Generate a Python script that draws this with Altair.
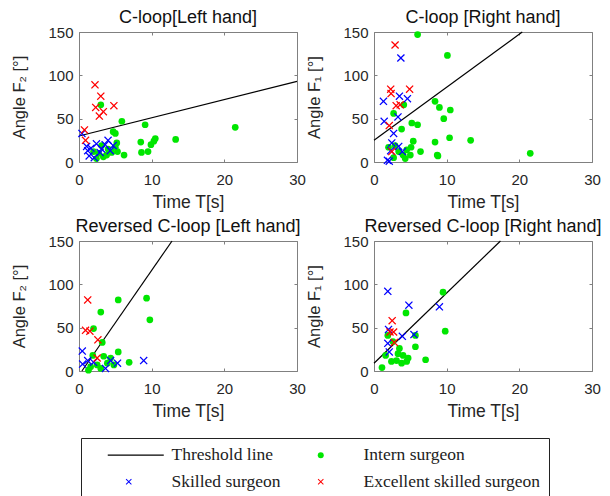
import altair as alt
import pandas as pd

groups = ["Threshold line", "Intern surgeon", "Skilled surgeon", "Excellent skilled surgeon"]
colors = ["#000000", "#00e600", "#0000ff", "#ff0000"]
X_PATH = "M-1,-0.78L-0.78,-1L0,-0.22L0.78,-1L1,-0.78L0.22,0L1,0.78L0.78,1L0,0.22L-0.78,1L-1,0.78L-0.22,0Z"
LINE_PATH = "M-7,-0.17L11.67,-0.17L11.67,0.17L-7,0.17Z"
shapes = [LINE_PATH, "circle", X_PATH, X_PATH]

titles = ["C-loop[Left hand]", "C-loop [Right hand]",
          "Reversed C-loop [Left hand]", "Reversed C-loop [Right hand]"]
y_titles = ["Angle F₂ [°]", "Angle F₁ [°]", "Angle F₂ [°]", "Angle F₁ [°]"]

# Threshold line end points (time, angle)
thr_t = [[0, 30], [0, 20.4], [0.4, 12.8], [0, 17.4]]
thr_a = [[30, 93], [25, 150], [0, 150], [9, 150]]

# Panel 1: C-loop left hand
p1_int_t = [3.0, 5.9, 4.7, 5.0, 9.1, 21.5, 13.3, 10.5, 10.3, 8.5, 9.9, 9.5, 8.6, 6.2, 5.2, 5.3, 4.5, 3.8, 2.7, 2.0, 3.35, 2.4, 4.0, 5.0, 3.1]
p1_int_a = [66, 47, 35, 33, 43, 40, 26, 27, 24, 23, 20, 12, 11, 8, 22, 12, 11, 8, 10, 12, 6, 4, 15, 17, 19]
p1_sk_t = [0.4, 1.05, 1.65, 2.4, 1.2, 1.4, 2.1, 2.9, 3.6, 4.0, 4.7, 3.1, 4.3]
p1_sk_a = [33, 18, 16, 21, 13, 7, 5, 11, 20, 25, 19, 15, 13]
p1_ex_t = [2.2, 3.0, 2.3, 3.35, 2.8, 4.8, 0.75, 0.9]
p1_ex_a = [89, 76, 63, 58, 53, 65, 37, 25]

# Panel 2: C-loop right hand
p2_int_t = [6.0, 10.1, 4.1, 8.4, 9.0, 10.5, 9.6, 2.7, 3.8, 5.2, 6.0, 10.4, 13.3, 8.4, 21.5, 6.4, 8.7, 8.8, 5.4, 5.1, 4.5, 4.0, 2.9, 2.0, 2.7, 4.3, 5.0, 3.4]
p2_int_a = [147, 123, 66, 70, 63, 60, 50, 56, 38, 45, 43, 28, 25, 23, 10, 12, 8, 7, 24, 17, 14, 8, 19, 17, 5, 4, 8, 12]
p2_sk_t = [3.7, 1.3, 3.5, 4.6, 1.4, 3.3, 2.7, 2.45, 3.4, 3.9, 1.85, 2.1, 2.3]
p2_sk_a = [120, 70, 76, 73, 47, 52, 33, 22, 18, 12, 2, 1, 13]
p2_ex_t = [2.9, 2.3, 2.35, 4.9, 3.05, 3.6, 2.1, 2.45]
p2_ex_a = [135, 84, 79, 84, 65, 66, 42, 12]

# Panel 3: Reversed C-loop left hand
p3_int_t = [3.0, 5.4, 9.3, 9.75, 2.0, 3.2, 5.4, 6.9, 3.4, 4.35, 2.5, 1.6, 1.3, 3.0, 3.9, 4.8, 1.9]
p3_int_a = [68, 82, 84, 59, 49, 33, 22, 10, 17, 15, 7, 5, 1, 3, 9, 7, 18]
p3_sk_t = [0.45, 0.5, 1.2, 4.35, 5.3, 8.9, 3.65, 2.0]
p3_sk_a = [23, 8, 12, 12, 9, 12, 3, 10]
p3_ex_t = [1.2, 0.9, 1.5, 2.6, 2.5]
p3_ex_a = [82, 47, 46, 36, 15]

# Panel 4: Reversed C-loop right hand
p4_int_t = [9.5, 4.4, 9.8, 5.7, 5.7, 1.1, 7.1, 1.9, 1.6, 2.6, 3.5, 4.0, 4.7, 3.1, 3.8, 2.4, 4.5, 3.3]
p4_int_a = [91, 67, 46, 28, 41, 4, 13, 41, 18, 34, 26, 18, 15, 12, 9, 11, 11, 20]
p4_sk_t = [1.9, 4.8, 9.0, 2.0, 3.9, 5.5, 1.9, 2.1]
p4_sk_a = [92, 76, 74, 48, 40, 42, 32, 22]
p4_ex_t = [2.5, 2.7, 2.2, 2.8]
p4_ex_a = [58, 45, 45, 33]

panel_data = [
    (p1_int_t, p1_int_a, p1_sk_t, p1_sk_a, p1_ex_t, p1_ex_a),
    (p2_int_t, p2_int_a, p2_sk_t, p2_sk_a, p2_ex_t, p2_ex_a),
    (p3_int_t, p3_int_a, p3_sk_t, p3_sk_a, p3_ex_t, p3_ex_a),
    (p4_int_t, p4_int_a, p4_sk_t, p4_sk_a, p4_ex_t, p4_ex_a),
]

FONT = "Liberation Sans"
TXT = "#262626"
color_scale = alt.Scale(domain=groups, range=colors)
shape_scale = alt.Scale(domain=groups, range=shapes)
xs = alt.Scale(domain=[0, 30], nice=False)
ys = alt.Scale(domain=[0, 150], nice=False)

legend = alt.Legend(
    title=None, orient="none", legendX=2, legendY=406, columns=2, direction="horizontal",
    symbolSize=36, symbolOffset=31,
    labelFont="Liberation Serif", labelFontSize=17.5, labelColor="#222222",
    labelOffset=34, labelLimit=300, padding=8, strokeColor="#222222", fillColor="white",
    columnPadding=-15, rowPadding=8,
)


def panel(i):
    it, ia, st, sa, et, ea = panel_data[i]
    circ = pd.DataFrame({"time": it, "angle": ia, "group": "Intern surgeon"})
    crosses = pd.DataFrame(
        [{"time": t, "angle": a, "group": "Skilled surgeon"} for t, a in zip(st, sa)]
        + [{"time": t, "angle": a, "group": "Excellent skilled surgeon"} for t, a in zip(et, ea)])
    ln = pd.DataFrame({"time": thr_t[i], "angle": thr_a[i]})

    line = alt.Chart(ln).mark_line(color="black", strokeWidth=1.2).encode(
        x=alt.X("time:Q", scale=xs, axis=alt.Axis(
            orient="bottom", title="Time T[s]", values=[0, 10, 20, 30], labelFlush=False,
            tickSize=3, offset=-3, domain=False, labelPadding=10, titlePadding=6)),
        y=alt.Y("angle:Q", scale=ys, axis=alt.Axis(
            orient="left", title=y_titles[i], values=[0, 50, 100, 150],
            tickSize=3, offset=-3, domain=False, labelPadding=6, titlePadding=20,
            titleFontSize=16.5)),
    )
    dots = alt.Chart(circ).mark_point(filled=True, size=45, opacity=1).encode(
        x=alt.X("time:Q", scale=xs, axis=alt.Axis(
            orient="top", title=None, labels=False, values=[0, 10, 20, 30],
            tickSize=3, offset=-3, domain=False)),
        y=alt.Y("angle:Q", scale=ys, axis=alt.Axis(
            orient="right", title=None, labels=False, values=[0, 50, 100, 150],
            tickSize=3, offset=-3, domain=False)),
        fill=alt.Fill("group:N", scale=color_scale, legend=legend),
        shape=alt.Shape("group:N", scale=shape_scale, legend=legend),
    )
    xmarks = alt.Chart(crosses).mark_point(filled=True, size=64, opacity=1).encode(
        x=alt.X("time:Q", scale=xs, axis=None),
        y=alt.Y("angle:Q", scale=ys, axis=None),
        fill=alt.Fill("group:N", scale=color_scale, legend=legend),
        shape=alt.Shape("group:N", scale=shape_scale, legend=legend),
    )
    return alt.layer(line, dots, xmarks).resolve_axis(x="independent", y="independent").properties(
        width=218, height=130, title=titles[i])


top = alt.hconcat(panel(0), panel(1), spacing=0)
bottom = alt.hconcat(panel(2), panel(3), spacing=0)
chart = alt.vconcat(top, bottom, spacing=6).properties(
    padding={"left": 11, "top": 8, "right": 0, "bottom": 0}
).configure_view(stroke="#808080", strokeWidth=1).configure_axis(
    labelFont=FONT, labelFontSize=15, labelColor=TXT, titleFont=FONT,
    titleFontSize=17.5, titleFontWeight="normal", titleColor=TXT,
    tickColor="#808080", grid=False,
).configure_title(
    font=FONT, fontSize=18, fontWeight="normal", color="#111111", offset=-2, anchor="middle"
)

chart.save("out.html", embed_options={"renderer": "svg", "actions": False})
